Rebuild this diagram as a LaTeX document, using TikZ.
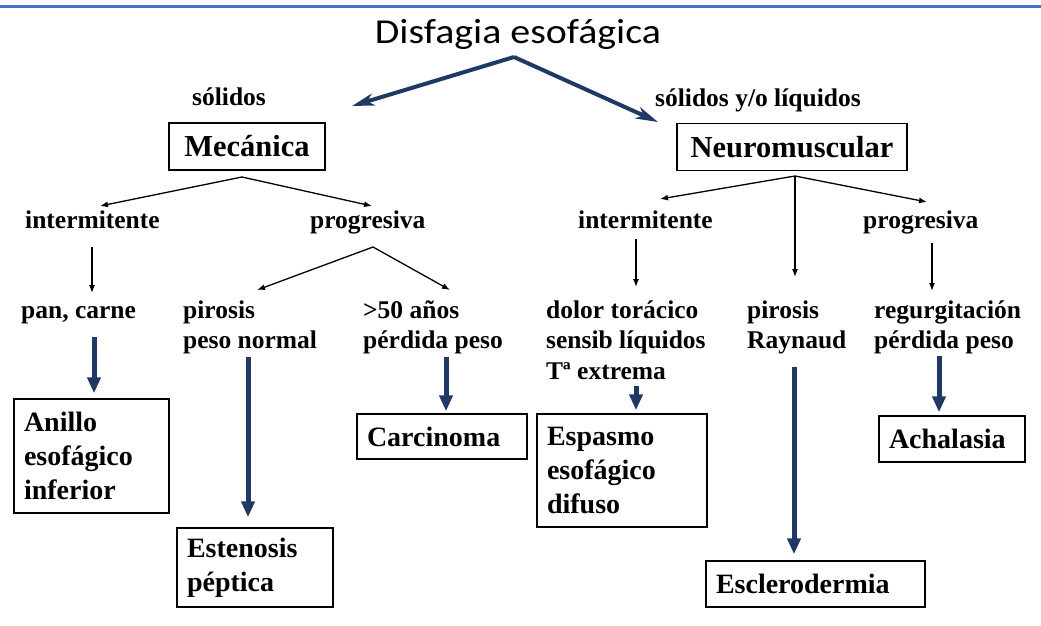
\documentclass[tikz,border=0pt]{standalone}
\usepackage{graphicx}
\usepackage{fontspec}
\setmainfont{Liberation Serif}
\newfontfamily\titlefont{Carlito}
\usetikzlibrary{arrows.meta}
\definecolor{navy}{HTML}{1F3864}
\definecolor{topblue}{HTML}{4472C4}
\begin{document}
\begin{tikzpicture}[x=1pt,y=-1pt,
  lbl/.style={inner sep=0pt, anchor=base west, align=left, font=\bfseries\fontsize{25.5}{30.5}\selectfont},
  catbox/.style={draw, line width=1.4pt, inner sep=0pt, font=\bfseries\fontsize{30.5}{34}\selectfont},
  resbox/.style={draw, line width=1.4pt, inner xsep=9pt, inner ysep=0pt, align=left, font=\bfseries\fontsize{28}{34}\selectfont},
  thinarr/.style={-{Latex[length=8pt,width=6pt]}, line width=1.3pt},
  thickarr/.style={-{Triangle[length=16pt,width=13pt]}, line width=5pt, navy},
  toparr/.style={-{Stealth[length=22pt,width=12pt,inset=6pt]}, line width=4pt, navy}]
\useasboundingbox (0,0) rectangle (1041,626);
\fill[topblue] (0,5) rectangle (1041,8.5);

% title
\node[inner sep=0pt, anchor=base, font=\titlefont\fontsize{35}{40}\selectfont] (title) at (518,44) {\scalebox{1.14}[1]{Disfagia esofágica}};
\coordinate (apex) at (514,57);
\coordinate (tipL) at (352,106);
\coordinate (tipR) at (658,122);
\draw[toparr] (apex) -- (tipL);
\draw[toparr] (apex) -- (tipR);

\node[lbl] (sol) at (192,105) {sólidos};
\node[lbl] (solliq) at (655,106) {sólidos y/o líquidos};

% categories
\node[catbox, minimum width=156pt, minimum height=47pt] (mec) at (247,146.5) {Mecánica};
\node[catbox, minimum width=230pt, minimum height=47pt] (neu) at (792,147) {Neuromuscular};

% second level labels
\node[lbl] (int1) at (25,228) {intermitente};
\node[lbl] (prog1) at (310,228) {progresiva};
\node[lbl] (int2) at (578,228) {intermitente};
\node[lbl] (prog2) at (863,228) {progresiva};

% third level labels (base anchor = last line)
\node[lbl] (pan) at (21,318) {pan, carne};
\node[lbl] (piro1) at (183,348.5) {pirosis\\peso normal};
\node[lbl] (age) at (363,348.5) {>50 años\\pérdida peso};
\node[lbl] (dolor) at (546,379) {dolor torácico\\sensib líquidos\\Tª extrema};
\node[lbl] (piro2) at (747,348.5) {pirosis\\Raynaud};
\node[lbl] (regur) at (874,348.5) {regurgitación\\pérdida peso};

% result boxes
\node[resbox, minimum width=155pt, minimum height=114pt, text width=135pt] (anillo) at (91.5,456) {Anillo\\esofágico\\inferior};
\node[resbox, minimum width=156pt, minimum height=79pt, text width=136pt] (esten) at (255,567.5) {Estenosis\\péptica};
\node[resbox, minimum width=170pt, minimum height=45pt, text width=150pt] (carc) at (442,436.5) {Carcinoma};
\node[resbox, minimum width=170pt, minimum height=113pt, text width=150pt] (espas) at (622,470.5) {Espasmo\\esofágico\\difuso};
\node[resbox, minimum width=219pt, minimum height=46pt, text width=199pt] (escle) at (815.5,584) {Esclerodermia};
\node[resbox, minimum width=146pt, minimum height=46pt, text width=126pt] (achal) at (952,439) {Achalasia};

% thin connectors
\coordinate (mecS) at (242,177);
\coordinate (int1T) at (100,206);
\coordinate (prog1T) at (372,206);
\draw[thinarr] (mecS) -- (int1T);
\draw[thinarr] (mecS) -- (prog1T);
\coordinate (int1B) at (92,247);
\coordinate (panT) at (92,293);
\draw[thinarr] (int1B) -- (panT);
\coordinate (prog1B) at (373,247);
\coordinate (piro1T) at (257,290);
\coordinate (ageT) at (450,290);
\draw[thinarr] (prog1B) -- (piro1T);
\draw[thinarr] (prog1B) -- (ageT);

\coordinate (neuS) at (795,176);
\coordinate (int2T) at (660,199);
\coordinate (piro2T) at (795,277);
\coordinate (prog2T) at (927,202);
\draw[thinarr] (neuS) -- (int2T);
\draw[thinarr] (neuS) -- (piro2T);
\draw[thinarr] (neuS) -- (prog2T);
\coordinate (int2B) at (636,239);
\coordinate (dolorT) at (636,287);
\draw[thinarr] (int2B) -- (dolorT);
\coordinate (prog2B) at (932,243);
\coordinate (regurT) at (932,291);
\draw[thinarr] (prog2B) -- (regurT);

% thick connectors
\coordinate (panB) at (94,337);
\draw[thickarr, shorten >=5pt] (panB) -- (panB |- anillo.north);
\coordinate (piro1B) at (248,357);
\draw[thickarr, shorten >=10pt] (piro1B) -- (piro1B |- esten.north);
\coordinate (ageB) at (446,357);
\draw[thickarr, shorten >=2pt] (ageB) -- (ageB |- carc.north);
\coordinate (dolorB) at (636,386);
\draw[thickarr, shorten >=3pt] (dolorB) -- (dolorB |- espas.north);
\coordinate (piro2B) at (794,367);
\draw[thickarr, shorten >=6pt] (piro2B) -- (piro2B |- escle.north);
\coordinate (regurB) at (939,356);
\draw[thickarr, shorten >=3pt] (regurB) -- (regurB |- achal.north);
\end{tikzpicture}
\end{document}
